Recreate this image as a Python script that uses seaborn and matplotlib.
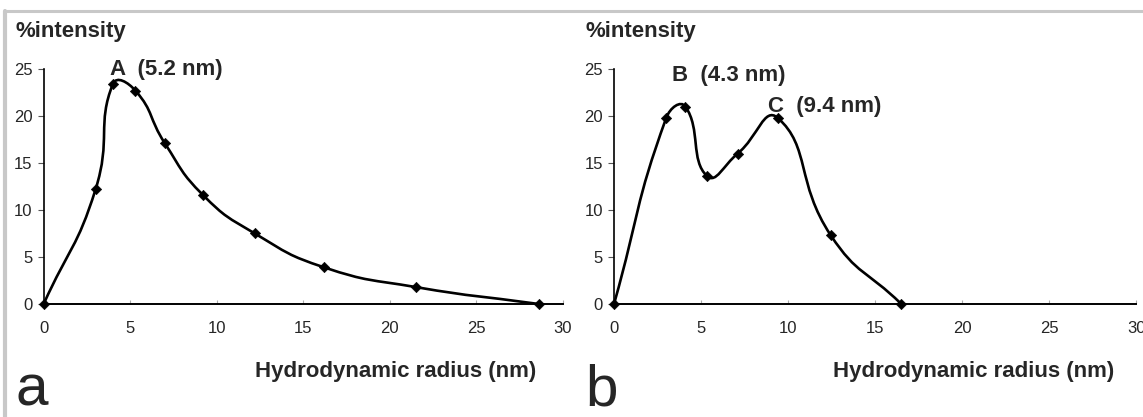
import numpy as np
import pandas as pd
import seaborn as sns
import matplotlib.pyplot as plt
from matplotlib.path import Path
from matplotlib.patches import PathPatch

# Dane
radius_a = [0, 3.0, 4.0, 5.3, 7.0, 9.2, 12.2, 16.2, 21.5, 28.6]
intensity_a = [0, 12.2, 23.4, 22.7, 17.1, 11.6, 7.5, 3.9, 1.8, 0]

radius_b = [0, 3.0, 4.1, 5.35, 7.1, 9.4, 12.45, 16.5]
intensity_b = [0, 19.8, 21.0, 13.6, 16.0, 19.8, 7.3, 0]

peaks_a = ["A  (5.2 nm)"]
peaks_b = ["B  (4.3 nm)", "C  (9.4 nm)"]
xticks = [0, 5, 10, 15, 20, 25, 30]
yticks = [0, 5, 10, 15, 20, 25]

sns.set_style("white")
plt.rcParams['font.family'] = ['Liberation Sans', 'DejaVu Sans']


def smooth_path(x, y, sx=17.3, sy=9.4):
    # wygładzona linia jak w Excelu (Bezier, styczne skalowane długością odcinków)
    p = np.column_stack([x, y]).astype(float)
    sc = np.array([sx, sy])
    q = p * sc
    ext = np.vstack([q[0], q, q[-1]])
    verts = [p[0]]
    codes = [Path.MOVETO]
    for i in range(len(p) - 1):
        a, b, c, d = ext[i], ext[i + 1], ext[i + 2], ext[i + 3]
        d_ab = np.hypot(*(b - a)) + 1e-9
        d_bc = np.hypot(*(c - b)) + 1e-9
        d_cd = np.hypot(*(d - c)) + 1e-9
        c1 = b + (c - a) * 0.5 * d_bc / (d_ab + d_bc)
        c2 = c - (d - b) * 0.5 * d_bc / (d_bc + d_cd)
        verts += [c1 / sc, c2 / sc, c / sc]
        codes += [Path.CURVE4] * 3
    return Path(verts, codes)


def draw_panel(ax, x, y):
    ax.add_patch(PathPatch(smooth_path(x, y), fill=False, lw=1.9,
                           edgecolor="black", zorder=2))
    df = pd.DataFrame({"r": x, "i": y})
    sns.scatterplot(data=df, x="r", y="i", marker="D", s=28, color="black",
                    edgecolor="black", ax=ax, zorder=3, clip_on=False)
    ax.set_xlim(0, 30)
    ax.set_ylim(0, 25)
    ax.set_xticks(xticks)
    ax.set_yticks(yticks)
    ax.set_xlabel("")
    ax.set_ylabel("")
    for s in ["top", "right"]:
        ax.spines[s].set_visible(False)
    ax.spines["left"].set_linewidth(1.2)
    ax.spines["bottom"].set_linewidth(1.4)
    ax.spines["left"].set_color("black")
    ax.spines["bottom"].set_color("black")
    ax.tick_params(axis="y", direction="out", length=4, width=0.8,
                   color="#555555", labelsize=12, pad=4, left=True)
    ax.tick_params(axis="x", direction="in", length=3, width=0.8,
                   color="#aaaaaa", labelsize=12, pad=12, bottom=True)


fig = plt.figure(figsize=(11.43, 4.17), dpi=100)
ax1 = fig.add_axes([0.0382, 0.271, 0.4543, 0.5636])
ax2 = fig.add_axes([0.5372, 0.271, 0.457, 0.5636])

draw_panel(ax1, radius_a, intensity_a)
draw_panel(ax2, radius_b, intensity_b)

bold = dict(fontsize=16, fontweight="bold")
ax1.text(3.83, 24.36, peaks_a[0], ha="left", va="baseline", **bold)
ax2.text(3.35, 23.7, peaks_b[0], ha="left", va="baseline", **bold)
ax2.text(8.87, 20.45, peaks_b[1], ha="left", va="baseline", **bold)

for xl, xr, letter in [(16, 536, "a"), (585, 1114, "b")]:
    fig.text(xl / 1143, 1 - 37 / 417, "%intensity", ha="left", va="baseline", **bold)
    fig.text(xr / 1143, 1 - 377 / 417, "Hydrodynamic radius (nm)", ha="right",
             va="baseline", **bold)
    fig.text(xl / 1143, 1 - 405 / 417, letter, ha="left", va="baseline", fontsize=42)

# szara ramka
fig.add_artist(plt.Line2D([5 / 1143, 1], [1 - 11 / 417, 1 - 11 / 417],
                          transform=fig.transFigure, color="#c8c8c8", lw=2.2))
fig.add_artist(plt.Line2D([5 / 1143, 5 / 1143], [0, 1 - 11 / 417],
                          transform=fig.transFigure, color="#c8c8c8", lw=3))

fig.savefig("out.png", dpi=100)
